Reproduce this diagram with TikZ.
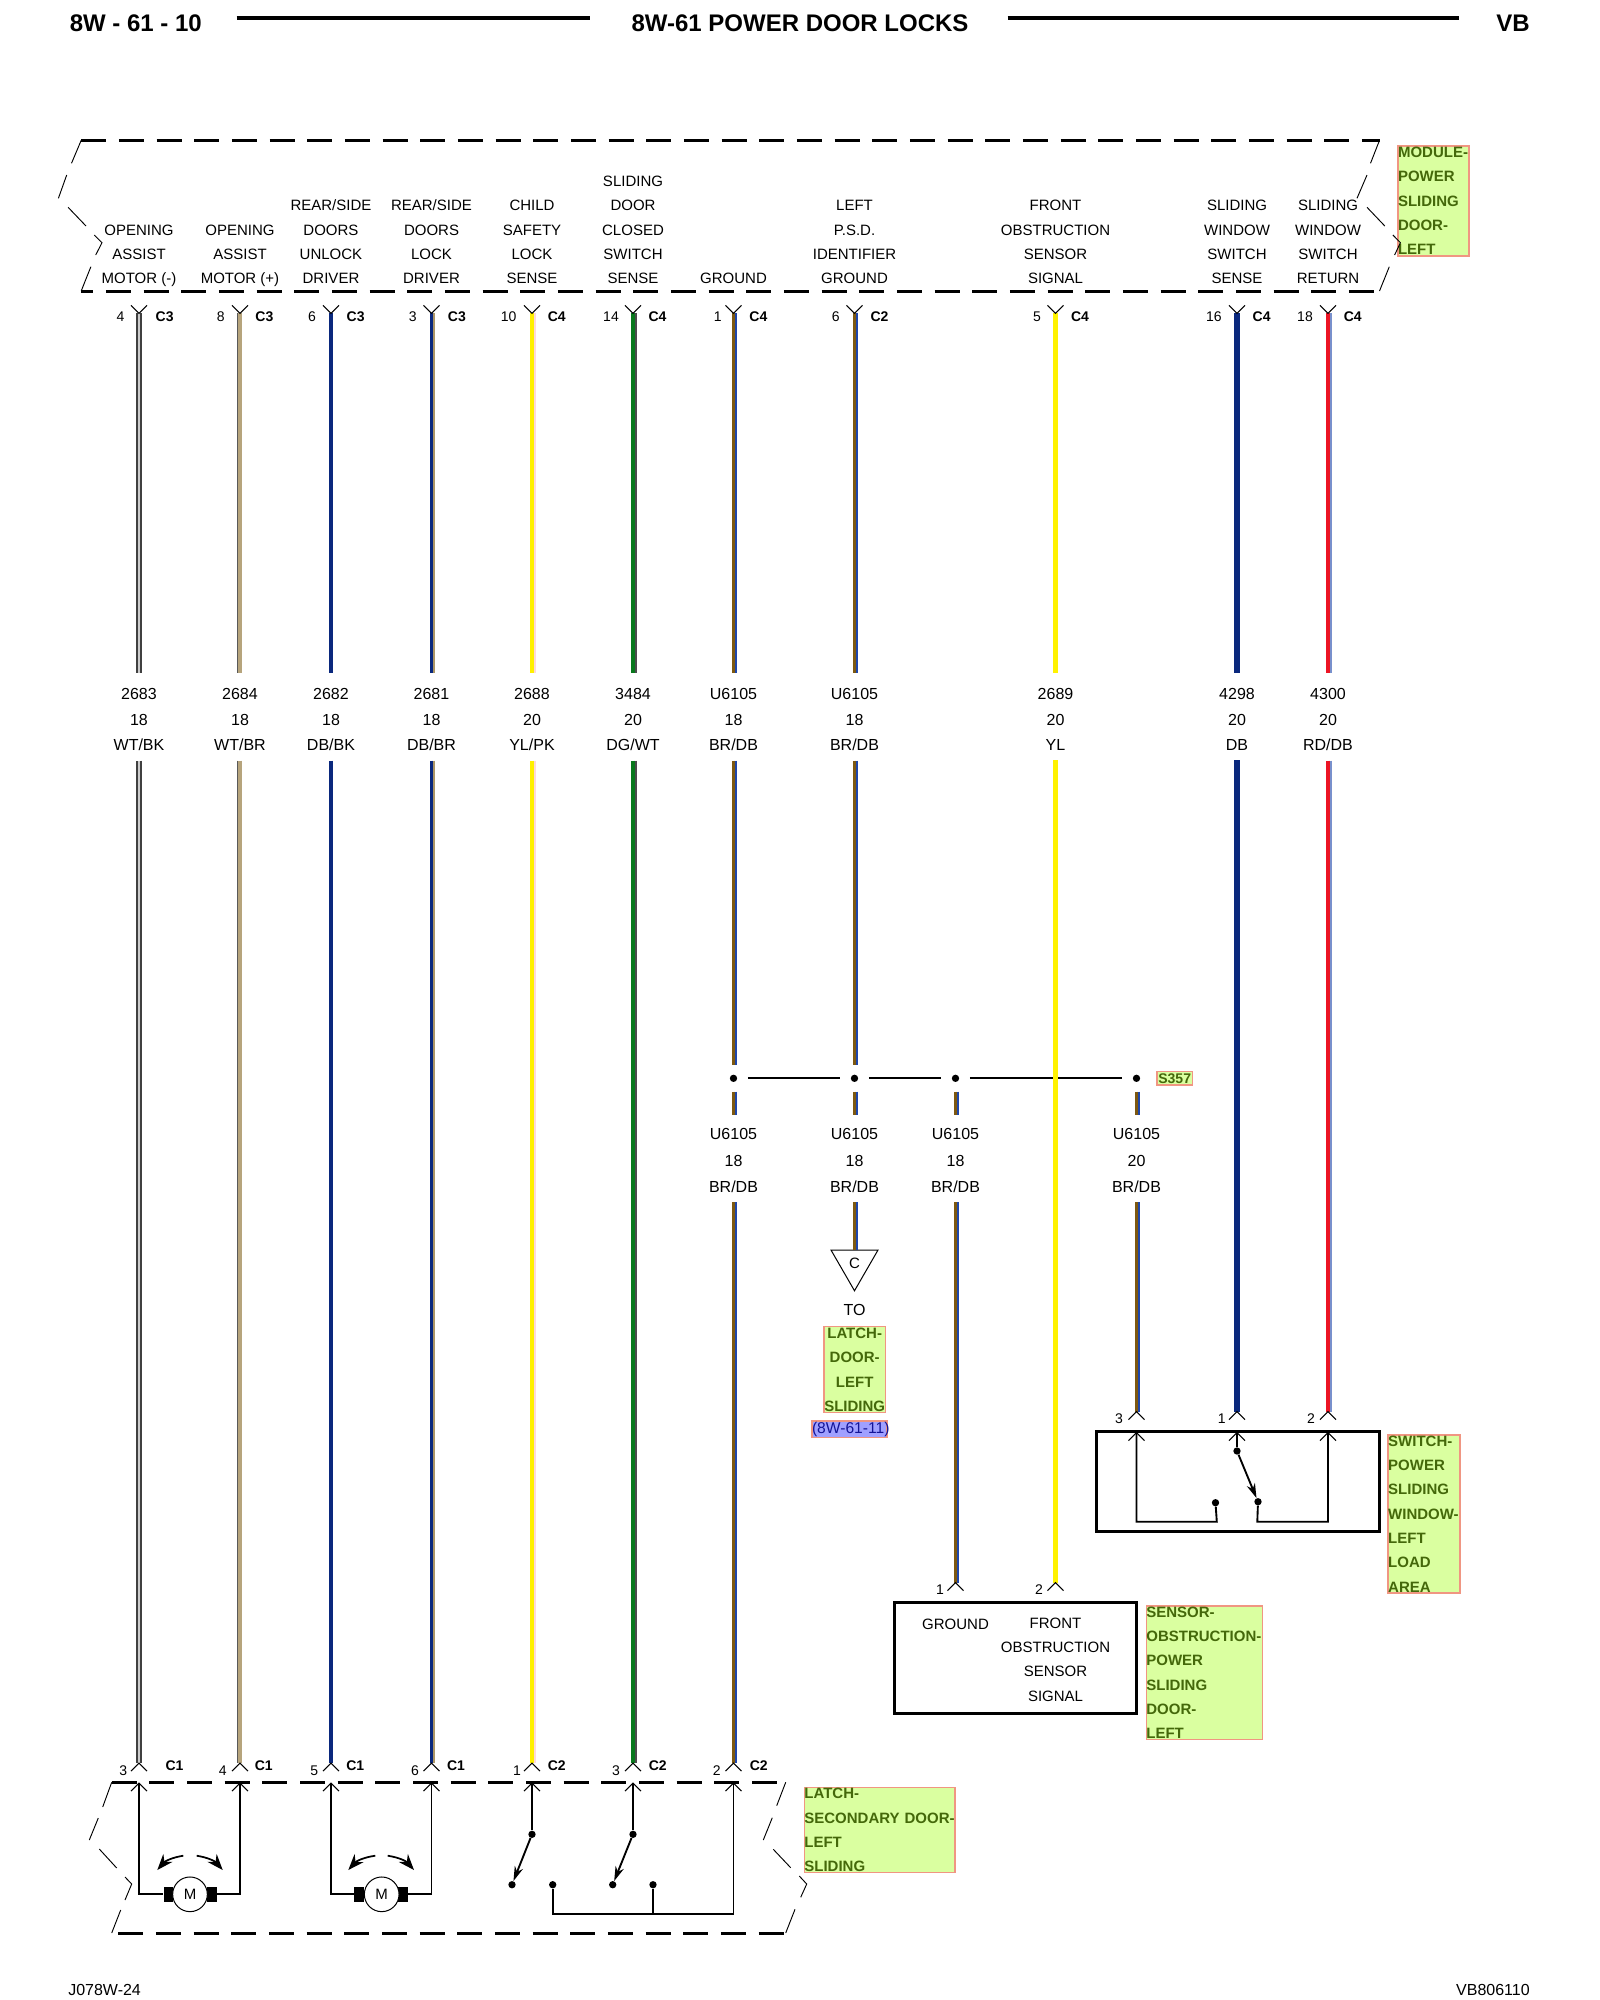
\documentclass[tikz,border=0pt]{standalone}
\usepackage{fontspec}
\setmainfont{Liberation Sans}
\usepackage{tikz}
\usetikzlibrary{arrows.meta,shapes.geometric}
\definecolor{navywire}{RGB}{10,40,125}
\definecolor{brownwire}{RGB}{125,88,16}
\definecolor{tanwire}{RGB}{182,164,124}
\definecolor{greenwire}{RGB}{8,120,28}
\definecolor{redwire}{RGB}{236,20,36}
\definecolor{yellowwire}{RGB}{255,240,0}
\definecolor{stripeblue}{RGB}{30,70,170}
\definecolor{tagfill}{RGB}{218,255,160}
\definecolor{tagline}{RGB}{240,150,130}
\definecolor{tagtext}{RGB}{68,104,10}
\definecolor{reffill}{RGB}{160,160,255}
\definecolor{reftext}{RGB}{20,20,150}
\tikzset{
    twotone/.style 2 args={draw=#1, line width=2.6pt, preaction={draw=#2, line width=1.6pt, transform canvas={xshift=1.9pt}}},
    wtbk/.style={draw=white!80!black, line width=2.2pt, preaction={draw=black!75, line width=4.2pt}},
    wtbr/.style={draw=tanwire, line width=3pt, preaction={draw=black!65, line width=1.2pt, transform canvas={xshift=-2pt}}},
    dbbk/.style={draw=navywire, line width=3.6pt},
    dbbr/.style={twotone={navywire}{tanwire!80!brownwire}},
    ylpk/.style={twotone={yellowwire}{red!15}},
    dgwt/.style={twotone={greenwire}{black!70}},
    brdb/.style={twotone={brownwire}{stripeblue}},
    ylwire/.style={draw=yellow, line width=3.9pt},
    dbwire/.style={draw=navywire, line width=3.9pt},
    rddb/.style={twotone={redwire}{stripeblue!60!white}},
    upcut/.style={shorten >=4.5pt},
    splicegap/.style={shorten >=7pt},
    splicegapb/.style={shorten <=7pt, shorten >=3pt},
    spliceline/.style={line width=1.5pt, shorten >=7.9pt, shorten <=7.9pt},
    dashline/.style={line width=2.25pt, dash pattern=on 18.75pt off 9.5pt},
    brk/.style={line width=0.7pt},
    inner/.style={line width=1.4pt},
    swarm/.style={line width=1.4pt, -{Stealth[length=11pt,width=6.5pt]}},
    motorarm/.style={line width=1.3pt, -{Stealth[length=12pt,width=9pt]}},
    pinline/.style={line width=0.8pt},
    vee/.pic={\draw [pinline] (-8,-8) -- (0,0) -- (8,-8);},
    chev/.pic={\draw [pinline] (-8,8) -- (0,0) -- (8,8);},
    dot/.style={circle, fill=black, inner sep=0pt, minimum size=5.5pt},
    block/.style={rectangle, fill=black, inner sep=0pt, minimum width=7.4pt, minimum height=11.25pt},
    motor/.style={circle, draw, fill=white, line width=0.75pt, inner sep=0pt, minimum size=26pt, font=\fontsize{11.25}{13}\selectfont},
    modtext/.style={anchor=south, align=center, inner sep=0pt, text depth=0pt, font=\fontsize{11.25}{18.2}\selectfont},
    wnum/.style={align=center, inner xsep=0pt, inner ysep=7pt, font=\fontsize{12}{19.3}\selectfont},
    unum/.style={align=center, inner xsep=0pt, inner ysep=7pt, font=\fontsize{12}{19.9}\selectfont},
    pinnum/.style={inner sep=0pt, font=\fontsize{10.5}{12}\selectfont},
    pinconn/.style={inner sep=0pt, font=\fontsize{10.5}{12}\selectfont\bfseries},
    heavybox/.style={draw, rectangle, line width=2.25pt, inner sep=0pt},
    tag/.style={draw=tagline, fill=tagfill, text=tagtext, line width=1.1pt, inner sep=0pt, align=left, font=\fontsize{11.25}{18.2}\selectfont\bfseries},
    hdrule/.style={line width=3pt},
    hdtext/.style={inner sep=0pt, font=\fontsize{18}{20}\selectfont\bfseries},
    foottext/.style={inner sep=0pt, font=\fontsize{12}{14}\selectfont}
}
\begin{document}
\begin{tikzpicture}[x=0.75pt,y=-0.75pt]
                \useasboundingbox (0,0) rectangle (1600,2000);

                \node [hdtext, anchor=west] (hleft) at (69.5,23) {8W - 61 - 10};
                \node [hdtext] (htitle) at (800,23) {8W-61 POWER DOOR LOCKS};
                \node [hdtext, anchor=east] (hright) at (1530,23) {VB};
                \coordinate (ra) at (236.5,18.3);
                \coordinate (rb) at (590,18.3);
                \coordinate (rc) at (1007.6,18.3);
                \coordinate (rd) at (1459,18.3);
                \draw [hdrule] (ra) -- (rb);
                \draw [hdrule] (rc) -- (rd);
                \node [foottext, anchor=west] (fleft) at (68,1990) {J078W-24};
                \node [foottext, anchor=east] (fright) at (1530,1990) {VB806110};

                \node [tag, text width=53.25pt, minimum height=82.3pt] (tagmod) at (1433.5,200.9) {MODULE-\\POWER\\SLIDING\\DOOR-\\LEFT};
                \node [tag, text width=46pt, minimum height=64.5pt, align=center] (taglatch) at (854.7,1369.7) {LATCH-\\DOOR-\\LEFT\\SLIDING};
                \node [draw=tagline, fill=reffill, text=reftext, line width=1.1pt, inner sep=0pt, text width=56.25pt, minimum height=12.2pt, align=center, font=\fontsize{11.7}{14}\selectfont] (tagref) at (849.5,1429.2) {\mbox{(8W-61-11)}};
                \node [tag, text width=26.8pt, minimum height=10pt, align=center, font=\fontsize{10.5}{12}\selectfont\bfseries] (tagsp) at (1174.7,1078.3) {S357};
                \node [tag, text width=87.2pt, minimum height=100pt] (tagsens) at (1204.5,1672.7) {SENSOR-\\OBSTRUCTION-\\POWER\\SLIDING\\DOOR-\\LEFT};
                \node [tag, text width=53.7pt, minimum height=118.7pt] (tagsw) at (1424,1514) {SWITCH-\\POWER\\SLIDING\\WINDOW-\\LEFT\\LOAD\\AREA};
                \node [tag, text width=113pt, minimum height=64pt] (tagsec) at (879.7,1830) {LATCH-\\\mbox{SECONDARY DOOR-}\\LEFT\\SLIDING};

                \draw [dashline] (81.2,140.3) -- (1379.5,140.3);
                \draw [dashline, dash phase=9.75pt] (81.2,291) -- (1379.5,291);
                \draw [brk] (81.2,140.3) -- (71.5,163.3) (66.7,175) -- (58.4,198.3) (68.1,207.3) -- (86,226) (94.3,235) -- (102,242.7) -- (95.7,255) (90.9,266.7) -- (81.2,291);
                \draw [brk] (1379.5,140.3) -- (1370.5,163.3) (1367,175) -- (1357,198.3) (1367,207.3) -- (1384.8,226) (1392.9,235) -- (1400.4,242.7) -- (1394.6,255) (1389.3,266.7) -- (1379.5,291);

                \draw [dashline] (111.7,1782.3) -- (785.7,1782.3);
                \draw [dashline] (118.3,1933) -- (785.7,1933);
                \draw [brk] (111.7,1782.3) -- (102.7,1807) (98.3,1818) -- (89.3,1840) (99.3,1849) -- (116.7,1868) (125,1877) -- (131.7,1884) -- (125,1900) (120.7,1910) -- (111.7,1933);
                \draw [brk] (785.7,1782.3) -- (776.7,1805.7) (772.3,1817.7) -- (763.3,1840) (773.3,1849.3) -- (790.7,1867.7) (799.3,1876) -- (806.7,1884) -- (800.7,1897.3) (795,1909.3) -- (785.7,1933);

                \node [modtext] (m1) at (139,283.9) {OPENING\\ASSIST\\MOTOR (-)};
                \node [modtext] (m2) at (240,283.9) {OPENING\\ASSIST\\MOTOR (+)};
                \node [modtext] (m3) at (331,283.9) {REAR/SIDE\\DOORS\\UNLOCK\\DRIVER};
                \node [modtext] (m4) at (431.5,283.9) {REAR/SIDE\\DOORS\\LOCK\\DRIVER};
                \node [modtext] (m5) at (532,283.9) {CHILD\\SAFETY\\LOCK\\SENSE};
                \node [modtext] (m6) at (633,283.9) {SLIDING\\DOOR\\CLOSED\\SWITCH\\SENSE};
                \node [modtext] (m7) at (733.5,283.9) {GROUND};
                \node [modtext] (m8) at (854.5,283.9) {LEFT\\P.S.D.\\IDENTIFIER\\GROUND};
                \node [modtext] (m9) at (1055.5,283.9) {FRONT\\OBSTRUCTION\\SENSOR\\SIGNAL};
                \node [modtext] (m10) at (1237,283.9) {SLIDING\\WINDOW\\SWITCH\\SENSE};
                \node [modtext] (m11) at (1328,283.9) {SLIDING\\WINDOW\\SWITCH\\RETURN};

                \coordinate (t1) at (139,313.3);
                \coordinate (t2) at (240,313.3);
                \coordinate (t3) at (331,313.3);
                \coordinate (t4) at (431.5,313.3);
                \coordinate (t5) at (532,313.3);
                \coordinate (t6) at (633,313.3);
                \coordinate (t7) at (733.5,313.3);
                \coordinate (t8) at (854.5,313.3);
                \coordinate (t9) at (1055.5,313.3);
                \coordinate (t10) at (1237,313.3);
                \coordinate (t11) at (1328,313.3);

                \node [pinnum] (tn1) at (120.5,316.7) {4};
                \node [pinnum] (tn2) at (220.8,316.7) {8};
                \node [pinnum] (tn3) at (312,316.7) {6};
                \node [pinnum] (tn4) at (412.8,316.7) {3};
                \node [pinnum] (tn5) at (508.7,316.7) {10};
                \node [pinnum] (tn6) at (611,316.7) {14};
                \node [pinnum] (tn7) at (717.7,316.7) {1};
                \node [pinnum] (tn8) at (835.7,316.7) {6};
                \node [pinnum] (tn9) at (1037,316.7) {5};
                \node [pinnum] (tn10) at (1213.8,316.7) {16};
                \node [pinnum] (tn11) at (1305,316.7) {18};
                \node [pinconn] (tc1) at (164.6,316.7) {C3};
                \node [pinconn] (tc2) at (264.4,316.7) {C3};
                \node [pinconn] (tc3) at (355.6,316.7) {C3};
                \node [pinconn] (tc4) at (456.9,316.7) {C3};
                \node [pinconn] (tc5) at (556.7,316.7) {C4};
                \node [pinconn] (tc6) at (657.5,316.7) {C4};
                \node [pinconn] (tc7) at (758.4,316.7) {C4};
                \node [pinconn] (tc8) at (879.5,316.7) {C2};
                \node [pinconn] (tc9) at (1080,316.7) {C4};
                \node [pinconn] (tc10) at (1261.6,316.7) {C4};
                \node [pinconn] (tc11) at (1352.7,316.7) {C4};

                \node [wnum] (w1) at (139,719.5) {2683\\18\\WT/BK};
                \node [wnum] (w2) at (240,719.5) {2684\\18\\WT/BR};
                \node [wnum] (w3) at (331,719.5) {2682\\18\\DB/BK};
                \node [wnum] (w4) at (431.5,719.5) {2681\\18\\DB/BR};
                \node [wnum] (w5) at (532,719.5) {2688\\20\\YL/PK};
                \node [wnum] (w6) at (633,719.5) {3484\\20\\DG/WT};
                \node [wnum] (w7) at (733.5,719.5) {U6105\\18\\BR/DB};
                \node [wnum] (w8) at (854.5,719.5) {U6105\\18\\BR/DB};
                \node [wnum] (w9) at (1055.5,719.5) {2689\\20\\YL};
                \node [wnum] (w10) at (1237,719.5) {4298\\20\\DB};
                \node [wnum] (w11) at (1328,719.5) {4300\\20\\RD/DB};

                \node [dot] (sp1) at (733.5,1078.3) {};
                \node [dot] (sp2) at (854.5,1078.3) {};
                \node [dot] (sp3) at (955.5,1078.3) {};
                \node [dot] (sp4) at (1136.5,1078.3) {};
                \draw [spliceline] (sp1) -- (sp2);
                \draw [spliceline] (sp2) -- (sp3);
                \draw [spliceline] (sp3) -- (sp4);

                \node [unum] (u1) at (733.5,1160.5) {U6105\\18\\BR/DB};
                \node [unum] (u2) at (854.5,1160.5) {U6105\\18\\BR/DB};
                \node [unum] (u3) at (955.5,1160.5) {U6105\\18\\BR/DB};
                \node [unum] (u4) at (1136.5,1160.5) {U6105\\20\\BR/DB};

                \node [draw, regular polygon, regular polygon sides=3, shape border rotate=180, line width=0.75pt, inner sep=0pt, minimum size=40.7pt, font=\fontsize{11.25}{13}\selectfont] (tri) at (854.5,1263.6) {C};
                \node [pinnum, font=\fontsize{12}{14}\selectfont] (tolab) at (854.5,1310) {TO};

                \coordinate (b1) at (139,1763);
                \coordinate (b2) at (240,1763);
                \coordinate (b3) at (331,1763);
                \coordinate (b4) at (431.5,1763);
                \coordinate (b5) at (532,1763);
                \coordinate (b6) at (633,1763);
                \coordinate (b7) at (733.5,1763);
                \coordinate (sa) at (955.5,1582.7);
                \coordinate (sb) at (1055.5,1582.7);
                \coordinate (qa) at (1136.5,1411.7);
                \coordinate (qb) at (1237,1411.7);
                \coordinate (qc) at (1328,1411.7);

                \draw [wtbk, upcut] (t1) -- (w1.north);
                \draw [wtbk] (w1.south) -- (b1);
                \draw [wtbr, upcut] (t2) -- (w2.north);
                \draw [wtbr] (w2.south) -- (b2);
                \draw [dbbk, upcut] (t3) -- (w3.north);
                \draw [dbbk] (w3.south) -- (b3);
                \draw [dbbr, upcut] (t4) -- (w4.north);
                \draw [dbbr] (w4.south) -- (b4);
                \draw [ylpk, upcut] (t5) -- (w5.north);
                \draw [ylpk] (w5.south) -- (b5);
                \draw [dgwt, upcut] (t6) -- (w6.north);
                \draw [dgwt] (w6.south) -- (b6);
                \draw [brdb, upcut] (t7) -- (w7.north);
                \draw [brdb, splicegap] (w7.south) -- (sp1);
                \draw [brdb, splicegapb] (sp1) -- (u1.north);
                \draw [brdb] (u1.south) -- (b7);
                \draw [brdb, upcut] (t8) -- (w8.north);
                \draw [brdb, splicegap] (w8.south) -- (sp2);
                \draw [brdb, splicegapb] (sp2) -- (u2.north);
                \draw [brdb] (u2.south) -- (tri.90);
                \draw [brdb, splicegapb] (sp3) -- (u3.north);
                \draw [brdb] (u3.south) -- (sa);
                \draw [brdb, splicegapb] (sp4) -- (u4.north);
                \draw [brdb] (u4.south) -- (qa);
                \draw [ylwire, upcut] (t9) -- (w9.north);
                \draw [ylwire] (w9.south) -- (sb);
                \draw [dbwire, upcut] (t10) -- (w10.north);
                \draw [dbwire] (w10.south) -- (qb);
                \draw [rddb, upcut] (t11) -- (w11.north);
                \draw [rddb] (w11.south) -- (qc);

                \pic at (t1) {vee};
                \pic at (t2) {vee};
                \pic at (t3) {vee};
                \pic at (t4) {vee};
                \pic at (t5) {vee};
                \pic at (t6) {vee};
                \pic at (t7) {vee};
                \pic at (t8) {vee};
                \pic at (t9) {vee};
                \pic at (t10) {vee};
                \pic at (t11) {vee};
                \pic at (b1) {chev};
                \pic at (b2) {chev};
                \pic at (b3) {chev};
                \pic at (b4) {chev};
                \pic at (b5) {chev};
                \pic at (b6) {chev};
                \pic at (b7) {chev};
                \pic at (sa) {chev};
                \pic at (sb) {chev};
                \pic at (qa) {chev};
                \pic at (qb) {chev};
                \pic at (qc) {chev};

                \node [pinnum] (qn1) at (1119,1418.3) {3};
                \node [pinnum] (qn2) at (1221.7,1418.3) {1};
                \node [pinnum] (qn3) at (1311,1418.3) {2};
                \node [heavybox, minimum width=212.4pt, minimum height=75pt] (swbox) at (1237.8,1481.7) {};
                \coordinate (qia) at (1136.5,1432.7);
                \coordinate (qib) at (1237,1432.7);
                \coordinate (qic) at (1328,1432.7);
                \pic at (qia) {chev};
                \pic at (qib) {chev};
                \pic at (qic) {chev};
                \node [dot] (kc) at (1237,1451) {};
                \node [dot] (kd) at (1258,1501.7) {};
                \node [dot] (ke) at (1215.5,1502.7) {};
                \coordinate (ka) at (1216.8,1521.7);
                \coordinate (kb) at (1257.3,1521.7);
                \draw [inner] (qia) |- (ka) -- (ke);
                \draw [inner] (kd) -- (kb) -| (qic);
                \draw [inner] (qib) -- (kc);
                \draw [swarm] (kc) -- (kd);

                \node [pinnum] (sn1) at (940,1590) {1};
                \node [pinnum] (sn2) at (1039,1590) {2};
                \node [heavybox, minimum width=181.7pt, minimum height=83.3pt] (sensbox) at (1015.3,1657.8) {};
                \node [modtext] (senga) at (955.5,1629.3) {GROUND};
                \node [modtext] (sengb) at (1055.5,1701.4) {FRONT\\OBSTRUCTION\\SENSOR\\SIGNAL};

                \node [pinnum] (bn1) at (123.3,1770.7) {3};
                \node [pinnum] (bn2) at (222.7,1770.7) {4};
                \node [pinnum] (bn3) at (314.3,1770.7) {5};
                \node [pinnum] (bn4) at (415,1770.7) {6};
                \node [pinnum] (bn5) at (517,1770.7) {1};
                \node [pinnum] (bn6) at (616,1770.7) {3};
                \node [pinnum] (bn7) at (716.7,1770.7) {2};
                \node [pinconn] (bc1) at (174.5,1766) {C1};
                \node [pinconn] (bc2) at (263.8,1766) {C1};
                \node [pinconn] (bc3) at (355.3,1766) {C1};
                \node [pinconn] (bc4) at (456,1766) {C1};
                \node [pinconn] (bc5) at (556.7,1766) {C2};
                \node [pinconn] (bc6) at (657.7,1766) {C2};
                \node [pinconn] (bc7) at (758.7,1766) {C2};

                \coordinate (i1) at (139,1783);
                \coordinate (i2) at (240,1783);
                \coordinate (i3) at (331,1783);
                \coordinate (i4) at (431.5,1783);
                \coordinate (i5) at (532,1783);
                \coordinate (i6) at (633,1783);
                \coordinate (i7) at (733.5,1783);
                \pic at (i1) {chev};
                \pic at (i2) {chev};
                \pic at (i3) {chev};
                \pic at (i4) {chev};
                \pic at (i5) {chev};
                \pic at (i6) {chev};
                \pic at (i7) {chev};

                \node [block] (ml1) at (168.5,1894.3) {};
                \node [block] (mr1) at (211.7,1894.3) {};
                \node [motor] (mot1) at (190,1894.3) {M};
                \node [block] (ml2) at (359.2,1894.3) {};
                \node [block] (mr2) at (403,1894.3) {};
                \node [motor] (mot2) at (381.7,1894.3) {M};
                \draw [inner] (i1) |- (ml1);
                \draw [inner] (i2) |- (mr1);
                \draw [inner] (i3) |- (ml2);
                \draw [inner] (i4) |- (mr2);

                \coordinate (aa) at (183.3,1855.7);
                \coordinate (ab) at (157.3,1870);
                \coordinate (ac) at (196.7,1855.7);
                \coordinate (ad) at (222.7,1870);
                \coordinate (ae) at (375.3,1855.7);
                \coordinate (af) at (348.3,1870);
                \coordinate (ag) at (387.7,1855.7);
                \coordinate (ah) at (414,1870);
                \draw [motorarm] (aa) to [bend right=20] (ab);
                \draw [motorarm] (ac) to [bend left=20] (ad);
                \draw [motorarm] (ae) to [bend right=20] (af);
                \draw [motorarm] (ag) to [bend left=20] (ah);

                \node [dot] (la) at (532,1834.3) {};
                \node [dot] (lb) at (512,1884.7) {};
                \node [dot] (lc) at (633,1834.3) {};
                \node [dot] (ld) at (612.7,1884.7) {};
                \node [dot] (le) at (552.7,1884.7) {};
                \node [dot] (lf) at (653,1884.7) {};
                \coordinate (lk) at (733.5,1914);
                \draw [inner] (i5) -- (la);
                \draw [swarm] (la) -- (lb);
                \draw [inner] (i6) -- (lc);
                \draw [swarm] (lc) -- (ld);
                \draw [inner] (le) |- (lk) -- (i7);
                \draw [inner] (lf) -- (lf |- lk);
            \end{tikzpicture}
\end{document}
